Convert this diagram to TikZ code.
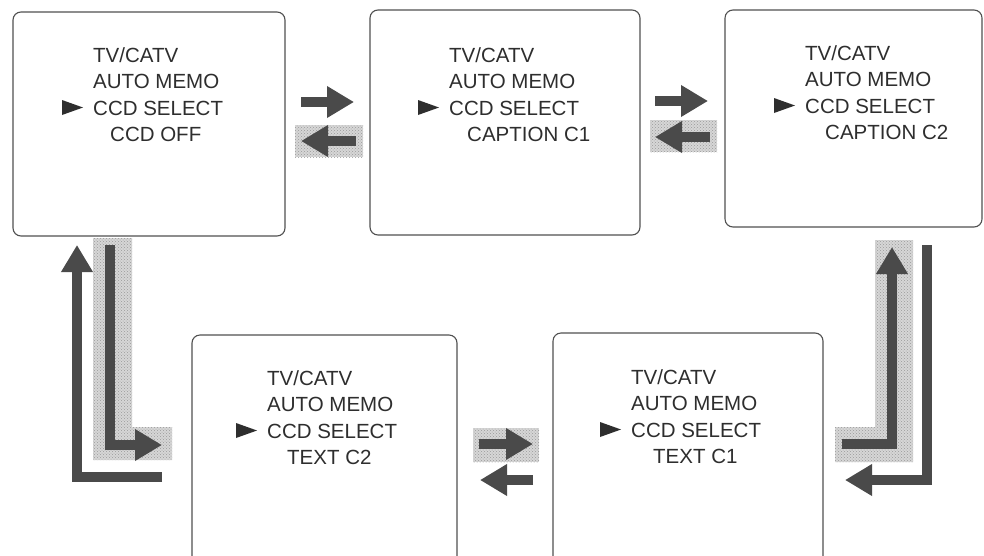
\documentclass[tikz,border=0pt]{standalone}
\usepackage{fontspec}
\setmainfont{Liberation Sans}
\usetikzlibrary{arrows.meta,patterns,calc}
\definecolor{boxline}{HTML}{505050}
\definecolor{txtcol}{HTML}{2E2E2E}
\definecolor{arrcol}{HTML}{4A4A4A}
\definecolor{stipfill}{HTML}{D6D6D6}
\definecolor{stipdot}{HTML}{9A9A9A}
\tikzset{
  menubox/.style={draw=boxline, line width=1.1pt, rounded corners=8pt, inner sep=0pt},
  txt/.style={anchor=base west, inner sep=0pt, text=txtcol, font=\fontsize{20.5}{24}\selectfont},
  arr/.style={draw=arrcol, line width=9.5pt, line cap=butt, line join=miter,
              -{Triangle[length=27pt,width=30pt]}},
  stip/.style={fill=stipfill, postaction={pattern=crosshatch dots, pattern color=stipdot}},
  pointer/.style={fill=txtcol},
}
% #1 name, #2 x of text, #3 baseline of first line, #4 last line, #5 indent
\newcommand\menutext[5]{%
  \node[txt] (#1a) at (#2,#3) {TV/CATV};
  \node[txt] (#1b) at (#2,{#3+26.5}) {AUTO MEMO};
  \node[txt] (#1c) at (#2,{#3+53}) {CCD SELECT};
  \node[txt] (#1d) at ({#2+#5},{#3+79}) {#4};
  \fill[pointer] ($(#1c.base west)+(-31,-15)$) -- ($(#1c.base west)+(-10,-7.5)$) -- ($(#1c.base west)+(-31,0)$) -- cycle;
}
\begin{document}
\begin{tikzpicture}[x=1pt,y=-1pt]
\useasboundingbox (0,0) rectangle (984,555);
\clip (0,0) rectangle (984,555);
\fill[white] (0,0) rectangle (984,555);

% boxes
\node[menubox, minimum width=272pt, minimum height=224pt] (b1) at (149,124) {};
\node[menubox, minimum width=270pt, minimum height=225pt] (b2) at (505,122.5) {};
\node[menubox, minimum width=257pt, minimum height=217pt] (b3) at (853.5,118.5) {};
\node[menubox, minimum width=265pt, minimum height=235pt] (b4) at (324.5,452.5) {};
\node[menubox, minimum width=270pt, minimum height=237pt] (b5) at (688,451.5) {};

% texts
\menutext{t1}{93}{62}{CCD OFF}{17}
\menutext{t2}{449}{62}{CAPTION C1}{18}
\menutext{t3}{805}{60}{CAPTION C2}{20}
\menutext{t4}{267}{385}{TEXT C2}{20}
\menutext{t5}{631}{384}{TEXT C1}{22}

% stippled backgrounds
\path[stip] (295,125) rectangle (363,157);
\path[stip] (650,120) rectangle (717,152);
\path[stip] (473,428) rectangle (539,462);
\path[stip] (93,238) -- (132,238) -- (132,427) -- (172,427) -- (172,460) -- (93,460) -- cycle;
\path[stip] (875,240) -- (913,240) -- (913,462) -- (835,462) -- (835,427) -- (875,427) -- cycle;

% arrow coordinates
\coordinate (a1s) at (301,102); \coordinate (a1e) at (354,102);
\coordinate (a2s) at (356,141); \coordinate (a2e) at (301,141);
\coordinate (a3s) at (655,101); \coordinate (a3e) at (708,101);
\coordinate (a4s) at (710,137); \coordinate (a4e) at (655,137);
\coordinate (a5s) at (479,444); \coordinate (a5e) at (533,444);
\coordinate (a6s) at (533,480); \coordinate (a6e) at (480,480);
\coordinate (lo1) at (162,477); \coordinate (lo2) at (77,477); \coordinate (lo3) at (77,245);
\coordinate (li1) at (110,245); \coordinate (li2) at (110,445); \coordinate (li3) at (162,445);
\coordinate (ri1) at (842,444); \coordinate (ri2) at (892,444); \coordinate (ri3) at (892,247);
\coordinate (ro1) at (927,245); \coordinate (ro2) at (927,480); \coordinate (ro3) at (845,480);

% arrows
\draw[arr] (a1s) -- (a1e);
\draw[arr] (a2s) -- (a2e);
\draw[arr] (a3s) -- (a3e);
\draw[arr] (a4s) -- (a4e);
\draw[arr] (a5s) -- (a5e);
\draw[arr] (a6s) -- (a6e);
\draw[arr] (lo1) -- (lo2) -- (lo3);
\draw[arr] (li1) -- (li2) -- (li3);
\draw[arr] (ri1) -- (ri2) -- (ri3);
\draw[arr] (ro1) -- (ro2) -- (ro3);
\end{tikzpicture}
\end{document}
